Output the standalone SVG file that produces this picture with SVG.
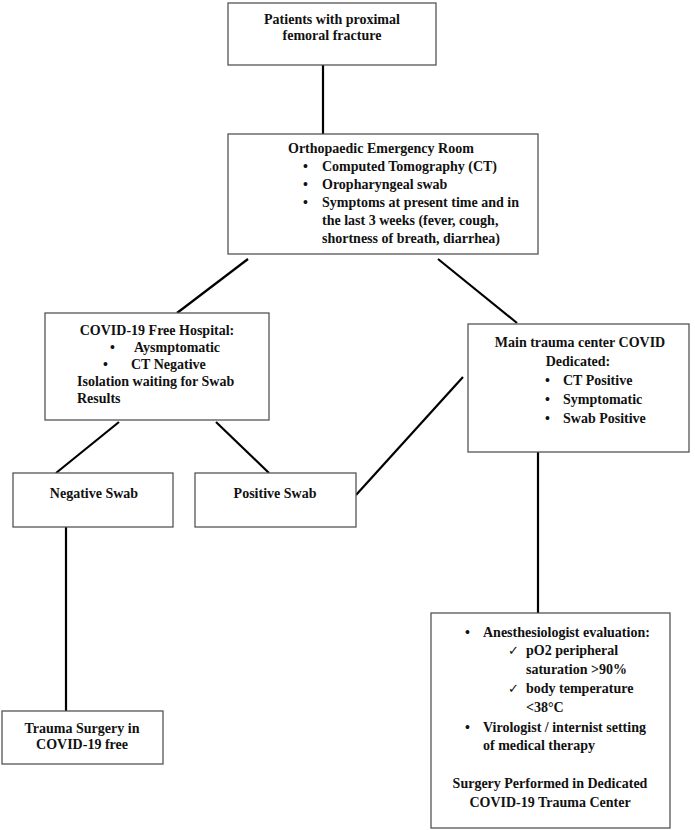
<svg xmlns="http://www.w3.org/2000/svg" width="695" height="830" viewBox="0 0 695 830">
<style>
.box{fill:#fff;stroke:#555;stroke-width:1.3}
.c{stroke:#000;stroke-width:2.2;fill:none}
text{font-family:"Liberation Serif","Times New Roman",serif;font-weight:bold;font-size:14px;fill:#111}
.m{text-anchor:middle}
.ck{font-family:"DejaVu Sans",sans-serif;font-weight:normal;font-size:13px}
</style>
<rect width="695" height="830" fill="#fff"/>
<g id="connectors">
<line class="c" x1="323" y1="65" x2="323" y2="134"/>
<line class="c" x1="248" y1="259" x2="177" y2="313"/>
<line class="c" x1="438" y1="259" x2="517" y2="323"/>
<line class="c" x1="119" y1="422" x2="56" y2="473"/>
<line class="c" x1="216" y1="422" x2="269" y2="473"/>
<line class="c" x1="356" y1="495" x2="463" y2="377"/>
<line class="c" x1="66" y1="527" x2="66" y2="711"/>
<line class="c" x1="538" y1="452" x2="538" y2="613"/>
</g>
<g id="patients">
<rect class="box" x="228" y="3" width="208" height="62"/>
<text class="m" x="332" y="24">Patients with proximal</text>
<text class="m" x="332" y="40">femoral fracture</text>
</g>
<g id="er">
<rect class="box" x="228" y="134" width="310" height="120"/>
<text x="288" y="153">Orthopaedic Emergency Room</text>
<text x="303" y="171">•</text><text x="322" y="171">Computed Tomography (CT)</text>
<text x="303" y="189">•</text><text x="322" y="189">Oropharyngeal swab</text>
<text x="303" y="207">•</text><text x="322" y="207">Symptoms at present time and in</text>
<text x="322" y="225">the last 3 weeks (fever, cough,</text>
<text x="322" y="243">shortness of breath, diarrhea)</text>
</g>
<g id="free">
<rect class="box" x="45" y="313" width="224" height="107"/>
<text class="m" x="157" y="335">COVID-19 Free Hospital:</text>
<text x="110" y="352">•</text><text x="134" y="352">Aysmptomatic</text>
<text x="103" y="369">•</text><text x="131" y="369">CT Negative</text>
<text x="77" y="386">Isolation waiting for Swab</text>
<text x="77" y="403">Results</text>
</g>
<g id="main">
<rect class="box" x="468" y="324" width="221" height="128"/>
<text class="m" x="580" y="347">Main trauma center COVID</text>
<text class="m" x="578" y="366">Dedicated:</text>
<text x="545" y="385">•</text><text x="563" y="385">CT Positive</text>
<text x="545" y="404">•</text><text x="563" y="404">Symptomatic</text>
<text x="545" y="423">•</text><text x="563" y="423">Swab Positive</text>
</g>
<g id="neg">
<rect class="box" x="13" y="473" width="160" height="54"/>
<text class="m" x="94" y="498">Negative Swab</text>
</g>
<g id="pos">
<rect class="box" x="195" y="473" width="161" height="54"/>
<text class="m" x="275" y="498">Positive Swab</text>
</g>
<g id="surgfree">
<rect class="box" x="2" y="711" width="161" height="53"/>
<text class="m" x="82" y="733">Trauma Surgery in</text>
<text class="m" x="82" y="749">COVID-19 free</text>
</g>
<g id="dedicated">
<rect class="box" x="431" y="613" width="239" height="215"/>
<text x="465" y="637">•</text><text x="483" y="637">Anesthesiologist evaluation:</text>
<text class="ck" x="508" y="655">✓</text><text x="526" y="655">pO2 peripheral</text>
<text x="526" y="674">saturation &gt;90%</text>
<text class="ck" x="508" y="693">✓</text><text x="526" y="693">body temperature</text>
<text x="526" y="712">&lt;38°C</text>
<text x="465" y="732">•</text><text x="483" y="732">Virologist / internist setting</text>
<text x="483" y="750">of medical therapy</text>
<text class="m" x="550" y="788">Surgery Performed in Dedicated</text>
<text class="m" x="550" y="807">COVID-19 Trauma Center</text>
</g>
</svg>
